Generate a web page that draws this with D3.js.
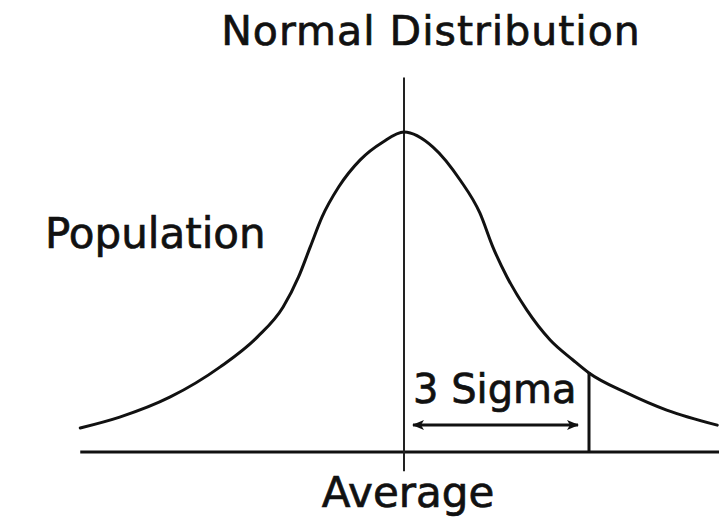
<!DOCTYPE html>
<html>
<head>
<meta charset="utf-8">
<script src="https://cdn.jsdelivr.net/npm/d3@7"></script>
<style>
  html, body { margin: 0; padding: 0; background: #fff; }
  text { font-family: "DejaVu Sans", Verdana, sans-serif; fill: #111; stroke: #111; stroke-width: 0.7px; }
</style>
</head>
<body>
<svg id="chart" width="719" height="523"></svg>
<script>
// Bell curve, x in standard deviations from the mean, y in relative population (peak = 100)
const curveX = [-5.25, -4.61, -3.79, -2.98, -2.38, -1.96, -1.71, -1.52, -1.33, -1.06, -0.71, -0.34, 0,
                 0.47, 0.91, 1.23, 1.44, 1.67, 1.99, 2.37, 2.74, 3.0, 3.62, 4.26, 5.08];
const curveY = [7.5, 10.9, 17.2, 26.6, 35.9, 45.3, 54.7, 64.1, 73.4, 82.8, 91.3, 96.9, 100,
                95.3, 85.0, 74.7, 64.1, 54.7, 44.4, 35.0, 28.75, 24.7, 18.4, 13.1, 8.4];

// Reference markers along the x axis
const meanX = 0;
const sigmaMarks = 3;

// Labels
const titleText = "Normal Distribution";
const yLabel = "Population";
const xLabel = "Average";
const sigmaLabel = "3 Sigma";

const W = 719, H = 523;
const svg = d3.select("#chart");

const x = d3.scaleLinear().domain([0, 3]).range([404, 589]);
const y = d3.scaleLinear().domain([0, 100]).range([452, 132]);

const points = curveX.map((v, i) => [v, curveY[i]]);

// Horizontal baseline
svg.append("line")
  .attr("x1", x(curveX[0])).attr("x2", W)
  .attr("y1", y(0)).attr("y2", y(0))
  .attr("stroke", "#111").attr("stroke-width", 3);

// Vertical line at the mean
svg.append("line")
  .attr("x1", x(meanX)).attr("x2", x(meanX))
  .attr("y1", y(117)).attr("y2", y(-6))
  .attr("stroke", "#222").attr("stroke-width", 2);

// The bell curve
svg.append("path")
  .datum(points)
  .attr("fill", "none")
  .attr("stroke", "#111")
  .attr("stroke-width", 3)
  .attr("stroke-linecap", "round")
  .attr("d", d3.line()
    .x(d => x(d[0]))
    .y(d => y(d[1]))
    .curve(d3.curveMonotoneX));

// Vertical line at +3 sigma, from the baseline up to the curve
const sigmaIdx = curveX.indexOf(sigmaMarks);
svg.append("line")
  .attr("x1", x(sigmaMarks)).attr("x2", x(sigmaMarks))
  .attr("y1", y(0)).attr("y2", y(curveY[sigmaIdx]) - 1)
  .attr("stroke", "#111").attr("stroke-width", 3);

// Double-headed arrow spanning mean to +3 sigma
const defs = svg.append("defs");
function arrowHead(id, orient) {
  defs.append("marker")
    .attr("id", id)
    .attr("viewBox", "0 0 12 10")
    .attr("refX", 11).attr("refY", 5)
    .attr("markerWidth", 12).attr("markerHeight", 10)
    .attr("markerUnits", "userSpaceOnUse")
    .attr("orient", orient)
    .append("path")
    .attr("d", "M0,0 L12,5 L0,10 L3,5 Z")
    .attr("fill", "#111");
}
arrowHead("head-end", "auto");
arrowHead("head-start", "auto-start-reverse");

const arrowY = 425;
svg.append("line")
  .attr("x1", x(meanX) + 9).attr("x2", x(sigmaMarks) - 11)
  .attr("y1", arrowY).attr("y2", arrowY)
  .attr("stroke", "#111").attr("stroke-width", 3)
  .attr("marker-start", "url(#head-start)")
  .attr("marker-end", "url(#head-end)");

// Text
svg.append("text")
  .attr("x", 431).attr("y", 45)
  .attr("text-anchor", "middle")
  .attr("font-size", 41)
  .attr("letter-spacing", 1)
  .text(titleText);

svg.append("text")
  .attr("x", 45).attr("y", 248)
  .attr("font-size", 42)
  .text(yLabel);

svg.append("text")
  .attr("x", x(meanX) + 9).attr("y", 403)
  .attr("font-size", 40)
  .text(sigmaLabel);

svg.append("text")
  .attr("x", 408).attr("y", 507)
  .attr("text-anchor", "middle")
  .attr("font-size", 42)
  .text(xLabel);
</script>
</body>
</html>
